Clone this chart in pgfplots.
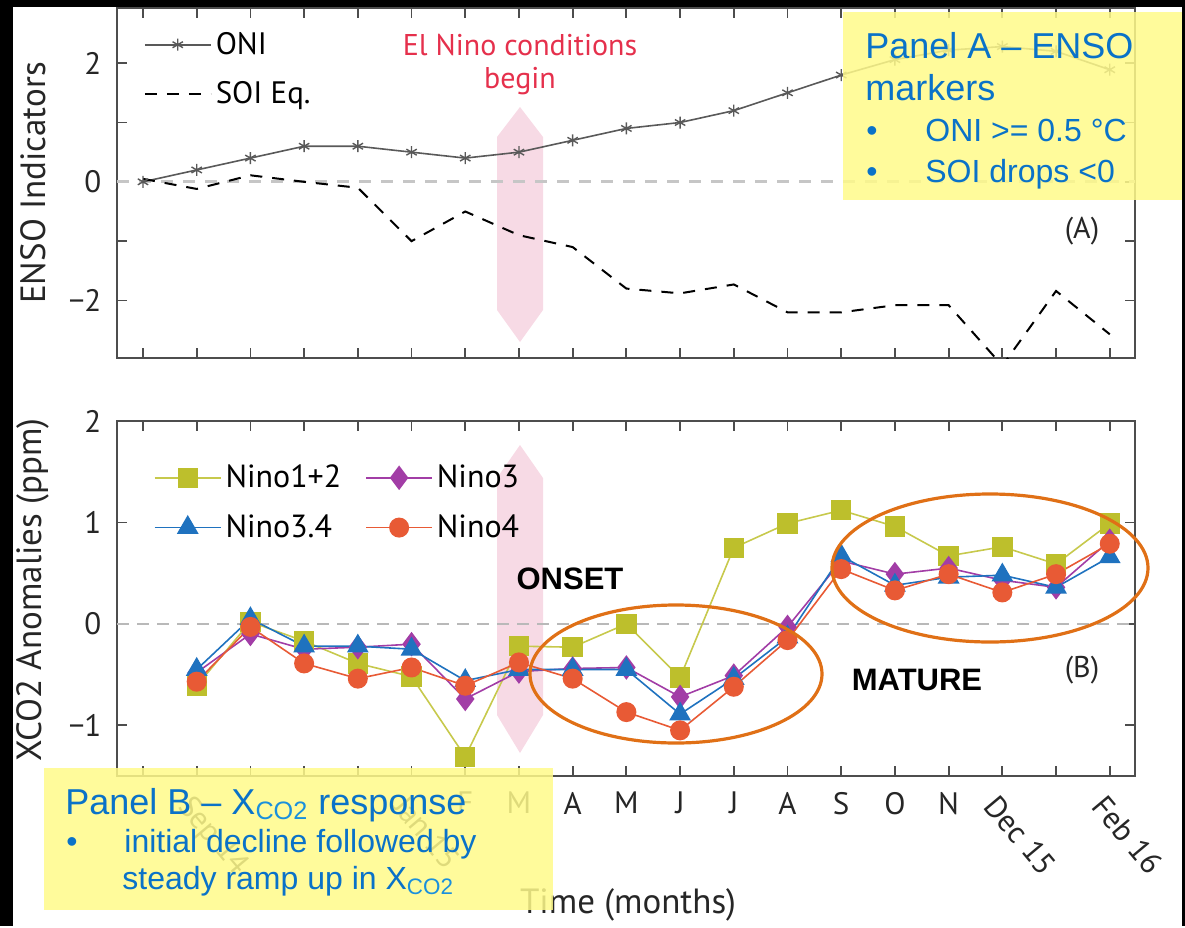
\documentclass[border=0pt]{standalone}
\usepackage{fontspec}
\setmainfont{PT Sans}
\newfontfamily\arial{Liberation Sans}
\usepackage{pgfplots}
\pgfplotsset{compat=1.18}

\definecolor{axgray}{HTML}{4D4D4D}
\definecolor{c12}{HTML}{BDBF2C}
\definecolor{c3}{HTML}{A23DA6}
\definecolor{c34}{HTML}{1F72BF}
\definecolor{c4}{HTML}{E85A35}
\definecolor{pinkband}{HTML}{F6D3E0}
\definecolor{elred}{HTML}{E5304C}
\definecolor{ellor}{HTML}{E07016}
\definecolor{boxyel}{HTML}{FFFA8A}
\definecolor{boxblue}{HTML}{0A72C8}
\definecolor{subblue}{HTML}{1A90DC}

\pgfplotsset{
  common/.style={
    scale only axis, width=509pt,
    xmin=-0.484, xmax=18.47,
    xtick={0,...,18},
    axis line style={axgray, line width=1pt},
    tick style={axgray, line width=0.9pt},
    major tick length=5pt,
    tick align=inside,
    ticklabel style={font=\fontsize{15.5}{18}\selectfont, text=black!85},
    yticklabel style={xshift=-4.3pt},
    xticklabel style={yshift=-4.5pt},
    label style={font=\fontsize{17.5}{20}\selectfont, text=black!85},
    legend cell align=left,
    legend image code/.code={\draw[mark repeat=2,mark phase=2] plot coordinates {(0pt,0pt) (16.5pt,0pt) (33pt,0pt)};},
  }
}

\begin{document}
\begin{tikzpicture}
\begin{scope}[x=0.5pt,y=-0.5pt]
\useasboundingbox (0,0) rectangle (1185,926);
% pink bands
\fill[pinkband, opacity=0.85] (520,107) -- (543,137) -- (543,310) -- (520,342) -- (497,310) -- (497,137) -- cycle;
\fill[pinkband, opacity=0.85] (520,445) -- (543,478) -- (543,715) -- (520,753) -- (497,715) -- (497,478) -- cycle;
\end{scope}

% ---------- Panel A ----------
\begin{axis}[common, at={(58.5pt,-179pt)}, anchor=south west, height=175pt,
  ymin=-2.97, ymax=2.93, ytick={-2,-1,0,1,2}, yticklabels={−2,,0,,2},
  xticklabels={},
  ylabel={ENSO Indicators},
  ylabel style={at={(axis description cs:-0.0825,0.5)}, anchor=center},
  legend style={draw=none, fill=none, at={(axis description cs:0.02,0.955)}, anchor=north west,
    font=\fontsize{15.5}{18}\selectfont, row sep=8pt},
]
\addplot[gray!45, line width=1.5pt, dash pattern=on 6pt off 5pt, forget plot] coordinates {(-0.484,0) (18.47,0)};
\addplot[black!65, line width=0.8pt, mark=asterisk, mark size=3pt, mark options={solid, line width=0.7pt}] coordinates {
(0,0) (1,0.2) (2,0.4) (3,0.6) (4,0.6) (5,0.5) (6,0.4) (7,0.5) (8,0.7) (9,0.9)
(10,1.0) (11,1.2) (12,1.5) (13,1.8) (14,2.06) (15,2.22) (16,2.28) (17,2.2) (18,1.89)};
\addlegendentry{ONI}
\addplot[black, line width=1pt, dash pattern=on 6pt off 5pt] coordinates {
(0,0.05) (1,-0.12) (2,0.11) (3,0.0) (4,-0.1) (5,-1.0) (6,-0.5) (7,-0.9) (8,-1.1) (9,-1.8)
(10,-1.88) (11,-1.73) (12,-2.2) (13,-2.2) (14,-2.08) (15,-2.08) (16,-3.1) (17,-1.84) (18,-2.57)};
\addlegendentry{SOI Eq.}
\end{axis}

% ---------- Panel B ----------
\begin{axis}[common, at={(58.5pt,-388pt)}, anchor=south west, height=177.5pt,
  ymin=-1.5, ymax=2, ytick={-1,0,1,2}, yticklabels={−1,0,1,2},
  xticklabels={,,,,,,F,M,A,M,J,J,A,S,O,N,,,},
  extra x ticks={1,5,16,18}, extra x tick labels={Sep 14,Jan 15,Dec 15,Feb 16},
  extra x tick style={xticklabel style={rotate=-50, anchor=north west, xshift=-1.3pt, yshift=0pt}},
  xlabel={Time (months)},
  xlabel style={at={(axis description cs:0.502,-0.363)}, anchor=center},
  ylabel={XCO2 Anomalies (ppm)},
  ylabel style={at={(axis description cs:-0.0825,0.524)}, anchor=center},
  legend columns=2,
  legend style={draw=none, fill=none, at={(axis description cs:0.03,0.9)}, anchor=north west,
    font=\fontsize{16}{19}\selectfont, row sep=8pt, /tikz/every even column/.append style={column sep=10pt}},
]
\addplot[gray!55, line width=1pt, dash pattern=on 6pt off 4pt, forget plot] coordinates {(-0.484,0) (18.47,0)};
\addplot[c12!85, line width=0.8pt, mark=square*, mark size=4.7pt, mark options={c12}] coordinates {
(1,-0.61) (2,0.02) (3,-0.17) (4,-0.39) (5,-0.52) (6,-1.31) (7,-0.22) (8,-0.23) (9,0.0)
(10,-0.53) (11,0.75) (12,0.99) (13,1.12) (14,0.96) (15,0.67) (16,0.76) (17,0.59) (18,0.99)};
\addlegendentry{Nino1+2}
\addplot[c3, line width=0.8pt, mark=diamond*, mark size=5.5pt, mark options={c3}] coordinates {
(1,-0.48) (2,-0.1) (3,-0.25) (4,-0.23) (5,-0.2) (6,-0.74) (7,-0.47) (8,-0.44) (9,-0.43)
(10,-0.72) (11,-0.51) (12,-0.03) (13,0.62) (14,0.49) (15,0.55) (16,0.43) (17,0.36) (18,0.82)};
\addlegendentry{Nino3}
\addplot[c34, line width=0.8pt, mark=triangle*, mark size=5.5pt, mark options={c34}] coordinates {
(1,-0.45) (2,0.05) (3,-0.22) (4,-0.22) (5,-0.25) (6,-0.56) (7,-0.45) (8,-0.45) (9,-0.45)
(10,-0.89) (11,-0.54) (12,-0.13) (13,0.67) (14,0.38) (15,0.46) (16,0.48) (17,0.36) (18,0.66)};
\addlegendentry{Nino3.4}
\addplot[c4, line width=0.8pt, mark=*, mark size=4.6pt, mark options={c4}] coordinates {
(1,-0.57) (2,-0.03) (3,-0.39) (4,-0.54) (5,-0.43) (6,-0.61) (7,-0.38) (8,-0.54) (9,-0.87)
(10,-1.05) (11,-0.62) (12,-0.16) (13,0.54) (14,0.33) (15,0.49) (16,0.31) (17,0.49) (18,0.79)};
\addlegendentry{Nino4}
\end{axis}

\begin{scope}[x=0.5pt,y=-0.5pt]
% El Nino text
\node[anchor=base, text=elred, font=\fontsize{15}{18}\selectfont, inner sep=0pt] at (520,55) {El Nino conditions};
\node[anchor=base, text=elred, font=\fontsize{15}{18}\selectfont, inner sep=0pt] at (520,88) {begin};
\node[anchor=base, font=\fontsize{15}{18}\selectfont, text=black!85, inner sep=0pt] at (1082,238) {(A)};
\node[anchor=base, font=\fontsize{15}{18}\selectfont, text=black!85, inner sep=0pt] at (1082,677) {(B)};
% onset / mature
\node[font=\arial\bfseries\fontsize{15.5}{18}\selectfont, inner sep=0pt] at (570,579) {ONSET};
\node[font=\arial\bfseries\fontsize{15.5}{18}\selectfont, inner sep=0pt] at (917,680) {MATURE};
% ellipses
\draw[ellor, line width=1.6pt] (676,674) ellipse [x radius=73pt, y radius=34.5pt];
\draw[ellor, line width=1.6pt] (990,568) ellipse [x radius=79pt, y radius=37pt];
% yellow boxes
\fill[boxyel, opacity=0.85] (843,12) rectangle (1183,200);
\fill[boxyel, opacity=0.85] (44,768) rectangle (553,910);
\begin{scope}[every node/.style={anchor=base west, inner sep=0pt, text=boxblue}]
\node[font=\arial\fontsize{18}{21}\selectfont] at (865,58) {Panel A – ENSO};
\node[font=\arial\fontsize{18}{21}\selectfont] at (865,100) {markers};
\node[font=\arial\fontsize{16}{19}\selectfont] at (866,141) {•};
\node[font=\arial\fontsize{16}{19}\selectfont] at (925,141) {ONI >= 0.5 °C};
\node[font=\arial\fontsize{16}{19}\selectfont] at (866,182) {•};
\node[font=\arial\fontsize{16}{19}\selectfont] at (925,182) {SOI drops <0};
\node[font=\arial\fontsize{18}{21}\selectfont] at (65,814) {Panel B – X\textsubscript{\textcolor{subblue}{CO2}} response};
\node[font=\arial\fontsize{16}{19}\selectfont] at (66,852) {•};
\node[font=\arial\fontsize{16}{19}\selectfont] at (124,852) {initial decline followed by};
\node[font=\arial\fontsize{16}{19}\selectfont] at (122,889) {steady ramp up in X\textsubscript{\textcolor{subblue}{CO2}}};
\end{scope}
% black frame strips
\fill[black] (0,0) rectangle (13,926);
\fill[black] (0,0) rectangle (1185,7);
\fill[black] (1182,0) rectangle (1185,926);
\end{scope}
\end{tikzpicture}
\end{document}
